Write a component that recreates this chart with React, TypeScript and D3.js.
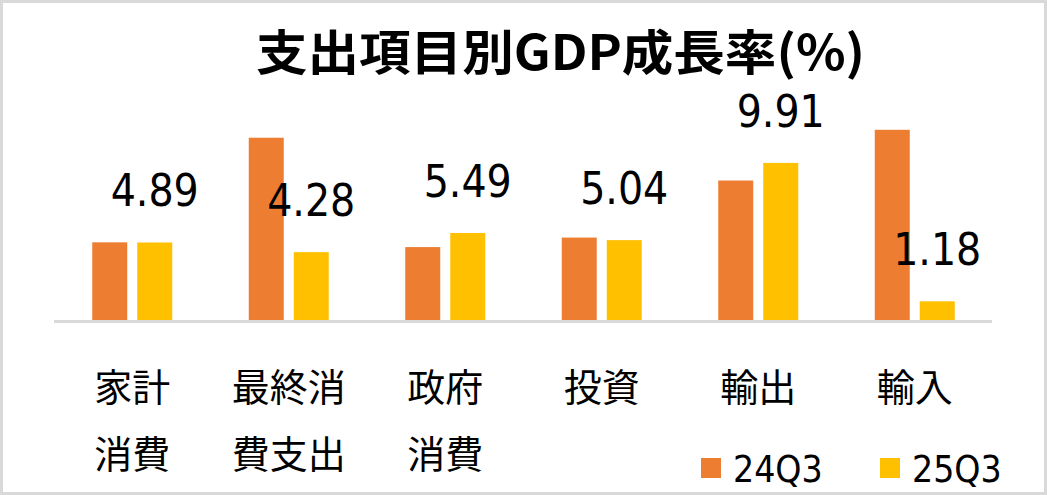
import React from "react";
import * as d3 from "d3";

const categories: string[][] = [
  ["家計", "消費"],
  ["最終消", "費支出"],
  ["政府", "消費"],
  ["投資"],
  ["輸出"],
  ["輸入"],
];
const seriesNames = ["24Q3", "25Q3"];
const values24Q3 = [4.9, 11.5, 4.6, 5.2, 8.8, 12.0];
const values25Q3 = [4.89, 4.28, 5.49, 5.04, 9.91, 1.18];
const title = "支出項目別GDP成長率(%)";

const W = 1047;
const H = 495;
const COLORS = ["#ED7D31", "#FFC000"];
const LATIN = "'DejaVu Sans Condensed', 'DejaVu Sans', sans-serif";
const CJK = "'Noto Sans CJK JP', 'Noto Sans', sans-serif";

export default function App() {
  const keys = categories.map((c) => c.join(""));
  const x = d3.scaleBand<string>().domain(keys).range([54, 993]).paddingInner(0).paddingOuter(0);
  const bw = x.bandwidth();
  const xi = d3
    .scaleBand<string>()
    .domain(seriesNames)
    .range([bw / 2 - 40, bw / 2 + 40])
    .paddingInner(2 - 80 / 45)
    .paddingOuter(0);
  const y = d3.scaleLinear().domain([0, 14]).range([320, 320 - 14 * 15.85]);
  const series = [values24Q3, values25Q3];

  return (
    <svg
      width={W}
      height={H}
      style={{ position: "absolute", left: 0, top: 0, background: "#fff" }}
    >
      <rect x={1.5} y={1.5} width={W - 3} height={H - 3} fill="#fff" stroke="#D9D9D9" strokeWidth={3} />
      <text
        x={W / 2 + 37}
        y={70}
        textAnchor="middle"
        fontFamily={CJK}
        fontWeight={700}
        fontSize={48}
        textLength={609}
        lengthAdjust="spacingAndGlyphs"
        fill="#000"
      >
        {title}
      </text>

      {keys.map((k, i) => (
        <g key={k} transform={`translate(${x(k)},0)`}>
          {series.map((vals, s) => (
            <rect
              key={s}
              x={xi(seriesNames[s])}
              y={y(vals[i])}
              width={xi.bandwidth()}
              height={y(0) - y(vals[i])}
              fill={COLORS[s]}
            />
          ))}
          <text
            x={(xi(seriesNames[1]) as number) + xi.bandwidth() / 2}
            y={y(values25Q3[i]) - 36}
            textAnchor="middle"
            fontFamily={LATIN}
            fontSize={44}
            fill="#000"
          >
            {values25Q3[i].toFixed(2)}
          </text>
          {categories[i].map((line, li) => (
            <text
              key={li}
              x={bw / 2}
              y={401 + li * 67}
              textAnchor="middle"
              fontFamily={CJK}
              fontSize={38}
              fill="#000"
            >
              {line}
            </text>
          ))}
        </g>
      ))}

      <line x1={54} x2={992} y1={321.5} y2={321.5} stroke="#D9D9D9" strokeWidth={3} />

      {seriesNames.map((name, s) => (
        <g key={name} transform={`translate(${701 + s * 179},0)`}>
          <rect x={0} y={458} width={20} height={20} fill={COLORS[s]} />
          <text x={32} y={482} fontFamily={LATIN} fontSize={37} fill="#000">
            {name}
          </text>
        </g>
      ))}
    </svg>
  );
}
